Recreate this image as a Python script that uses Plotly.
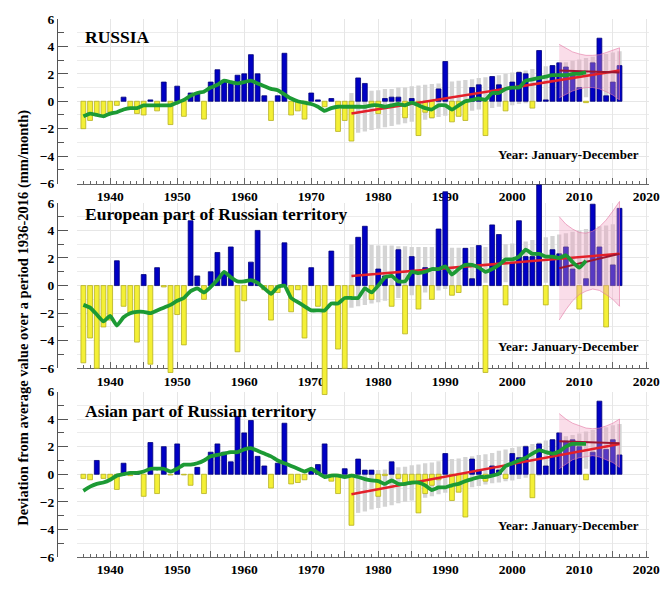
import plotly.graph_objects as go

# ---------------- data ----------------
years = list(range(1936, 2017))
smooth_years = list(range(1936, 2012))
trend_years = list(range(1976, 2017))
recent_years = list(range(2007, 2017))
tick_years = list(range(1935, 2021, 5))
tick_labels = [str(v) if v % 10 == 0 else "" for v in tick_years]

panel_titles = ["RUSSIA", "European part of Russian territory", "Asian part of Russian territory"]
period_label = "Year: January-December"
y_title = "Deviation from average value over a period 1936-2016 (mm/month)"

russia = [-2.0, -1.4, -1.0, -1.0, -0.8, -0.3, 0.3, -0.5, -0.9, -1.0,
          0.1, -0.7, 1.4, -1.7, 1.1, -1.1, 0.6, 0.6, -1.3, 1.4,
          2.3, 1.4, 1.3, 1.9, 2.0, 3.4, 2.0, 0.4, -1.4, 0.4,
          3.5, -1.0, -0.7, -1.3, 0.6, 0.1, -0.4, 0.2, -2.2, -1.4,
          -2.9, 1.7, 1.3, -0.3, -0.9, 0.2, 0.3, 0.3, -1.2, 0.2,
          -2.5, -0.8, -1.2, 0.9, 2.9, -1.5, -1.1, -1.4, 1.0, 1.2,
          -2.5, 1.8, 1.2, -0.7, 1.4, 2.1, 2.0, -0.5, 3.7, 0.1,
          2.6, 2.8, 2.5, 2.0, 1.0, -0.1, 2.8, 4.6, 0.4, 1.4,
          2.6]
europe = [-5.6, -3.8, -6.0, -3.0, -2.5, 1.8, -1.5, -2.0, -4.1, 0.8,
          -5.7, 1.3, -0.1, -6.3, -2.1, -4.3, 4.7, 0.7, -1.0, 1.0,
          2.4, 0.9, 2.8, -4.8, -1.1, 1.7, 4.0, -0.3, -2.5, -0.5,
          3.1, -1.9, -0.3, -3.8, 1.3, -1.5, -7.9, 2.5, -4.6, -6.0,
          -0.9, 3.5, 4.3, -1.0, 1.2, 0.7, -1.5, 2.6, -3.5, 2.1,
          -1.7, 1.3, -1.0, 4.1, 6.8, -0.7, -0.5, 2.7, 0.5, 2.9,
          -6.3, 4.4, 3.7, -1.4, 1.6, 4.7, 2.1, 2.1, 7.3, -1.4,
          2.6, 2.3, 2.8, 1.2, -1.7, 0.5, 5.9, 2.8, -3.0, 1.5,
          5.6]
asia = [-0.3, -0.4, 1.0, -0.3, -0.3, -1.1, 0.8, -0.1, 0.05, -1.6,
        2.3, -1.4, 2.0, -0.05, 2.2, -0.05, -0.8, 0.5, -1.4, 1.6,
        2.2, 1.6, 0.9, 4.2, 3.0, 3.9, 1.3, 0.6, -1.0, 0.8,
        3.7, -0.7, -0.6, -0.4, 0.4, 0.7, 2.2, -0.5, -1.4, 0.4,
        -3.7, 1.1, 0.3, 0.3, -1.6, -0.1, 0.9, -0.3, -0.6, -0.5,
        -2.8, -1.4, -0.8, -0.4, 1.5, -1.9, -1.3, -3.1, 1.1, 0.3,
        -0.5, 0.6, 0.3, -0.3, 1.5, 1.2, 2.0, -1.7, 2.2, 0.6,
        2.5, 3.0, 2.4, 2.5, 2.0, -0.4, 1.6, 5.3, 1.8, 2.5,
        1.4]

russia_smooth = [-1.1, -0.9, -1.0, -1.1, -0.9, -0.8, -0.6, -0.5, -0.5, -0.3,
                 -0.3, -0.3, -0.3, -0.3, -0.1, 0.1, 0.4, 0.6, 0.7, 1.0,
                 1.2, 1.5, 1.4, 1.3, 1.4, 1.5, 1.3, 1.1, 0.9, 0.8,
                 0.5, 0.2, 0.0, -0.1, -0.2, -0.4, -0.7, -0.5, -0.4, -0.4,
                 -0.4, -0.4, -0.4, -0.3, -0.3, -0.4, -0.3, -0.2, -0.3, -0.1,
                 -0.3, -0.5, -0.6, -0.3, -0.3, -0.6, -0.3, 0.0, 0.1, 0.2,
                 0.1, 0.6, 0.6, 0.9, 1.0, 1.0, 1.5, 1.6, 1.7, 1.8,
                 1.9, 1.9, 1.9, 2.0, 2.0, 2.1]
europe_smooth = [-1.4, -1.6, -2.1, -2.6, -2.2, -2.9, -2.3, -2.0, -1.9, -1.9,
                 -2.0, -1.8, -1.6, -1.4, -1.1, -0.9, -0.4, -0.2, -0.5, -0.1,
                 0.4, 1.0, 0.6, 0.3, 0.3, 0.4, 0.2, -0.2, -0.6, -0.1,
                 0.0, -0.9, -1.2, -1.5, -1.8, -1.8, -1.8, -1.3, -1.3, -0.9,
                 -0.9, -0.9, -0.2, -0.5, 0.0, 0.6, 0.7, 0.3, 0.3, 1.0,
                 0.9, 1.0, 1.2, 1.2, 1.4, 0.8, 1.2, 1.5, 1.5, 1.3,
                 1.0, 1.2, 1.5, 1.9, 1.9, 2.1, 2.6, 2.3, 2.3, 2.1,
                 2.1, 2.0, 2.2, 1.7, 1.3, 1.8]
asia_smooth = [-1.2, -0.9, -0.7, -0.6, -0.4, -0.1, 0.0, 0.1, 0.1, 0.2,
               0.4, 0.4, 0.4, 0.2, 0.4, 0.7, 0.7, 0.8, 1.0, 1.3,
               1.4, 1.5, 1.6, 1.6, 1.8, 1.9, 1.7, 1.5, 1.3, 1.0,
               0.8, 0.6, 0.4, 0.2, 0.4, 0.1, -0.2, -0.1, -0.1, -0.2,
               -0.1, -0.2, -0.35, -0.45, -0.5, -0.7, -0.45, -0.7, -0.7, -0.6,
               -0.6, -0.8, -1.15, -0.95, -0.95, -0.8, -0.7, -0.5, -0.35, -0.2,
               -0.2, -0.1, 0.05, 0.6, 0.8, 1.0, 1.2, 1.5, 1.75, 1.6,
               1.5, 1.65, 2.0, 2.2, 2.2, 2.2]

# grey confidence bars of the 1976-2016 trend (low / high per year)
russia_ci_lo = [-2.4, -2.3, -2.2, -2.1, -2.0, -1.9, -1.8, -1.7, -1.6, -1.5,
                -1.45, -1.35, -1.25, -1.15, -1.05, -0.95, -0.9, -0.8, -0.7, -0.6,
                -0.55, -0.5, -0.4, -0.35, -0.3, -0.2, -0.15, -0.1, -0.05, 0.0,
                0.05, 0.1, 0.15, 0.2, 0.25, 0.3, 0.35, 0.4, 0.45, 0.5, 0.55]
russia_ci_hi = [0.6, 0.65, 0.7, 0.76, 0.8, 0.9, 0.9, 1.0, 1.0, 1.1,
                1.15, 1.2, 1.25, 1.3, 1.35, 1.45, 1.5, 1.55, 1.6, 1.7,
                1.75, 1.85, 1.9, 2.0, 2.1, 2.2, 2.25, 2.35, 2.45, 2.55,
                2.65, 2.75, 2.85, 2.95, 3.05, 3.15, 3.25, 3.35, 3.45, 3.55, 3.65]
europe_ci_lo = [-1.6, -1.5, -1.4, -1.3, -1.2, -1.1, -1.0, -0.9, -0.8, -0.7,
                -0.6, -0.5, -0.4, -0.35, -0.25, -0.15, -0.1, 0.0, 0.05, 0.15,
                0.2, 0.2, 0.25, 0.25, 0.3, 0.3, 0.3, 0.25, 0.25, 0.2,
                0.2, 0.2, 0.15, 0.15, 0.1, 0.1, 0.1, 0.1, 0.05, 0.05, 0.05]
europe_ci_hi = [3.0, 3.0, 2.95, 2.95, 2.9, 2.9, 2.9, 2.85, 2.85, 2.8,
                2.8, 2.8, 2.8, 2.75, 2.75, 2.75, 2.75, 2.75, 2.8, 2.8,
                2.8, 2.85, 2.9, 3.0, 3.05, 3.1, 3.2, 3.3, 3.4, 3.5,
                3.6, 3.7, 3.8, 3.9, 4.0, 4.1, 4.2, 4.3, 4.35, 4.45, 4.55]
asia_ci_lo = [-2.9, -2.8, -2.7, -2.55, -2.45, -2.35, -2.25, -2.1, -2.0, -1.9,
              -1.8, -1.7, -1.6, -1.45, -1.35, -1.25, -1.15, -1.05, -0.95, -0.85,
              -0.75, -0.65, -0.6, -0.5, -0.45, -0.35, -0.25, -0.2, -0.1, -0.05,
              0.05, 0.1, 0.15, 0.25, 0.3, 0.4, 0.45, 0.55, 0.6, 0.65, 0.75]
asia_ci_hi = [0.0, 0.07, 0.14, 0.2, 0.3, 0.35, 0.45, 0.5, 0.55, 0.65,
              0.7, 0.8, 0.85, 0.95, 1.0, 1.1, 1.15, 1.25, 1.3, 1.4,
              1.45, 1.55, 1.7, 1.8, 1.9, 2.0, 2.1, 2.2, 2.3, 2.45,
              2.55, 2.65, 2.75, 2.85, 2.95, 3.1, 3.2, 3.3, 3.4, 3.55, 3.65]

# linear trend 1976-2016 (end values) and recent trend 2007-2016 (end values)
russia_trend = [-0.9, 2.25]
europe_trend = [0.7, 2.3]
asia_trend = [-1.45, 2.2]
russia_recent = [2.25, 2.1]
europe_recent = [1.25, 2.3]
asia_recent = [2.4, 2.25]

# pink confidence band of the recent trend (2007-2016)
russia_band_hi = [4.15, 3.85, 3.6, 3.45, 3.35, 3.35, 3.4, 3.55, 3.7, 3.9]
russia_band_lo = [0.25, 0.5, 0.75, 0.9, 1.0, 1.0, 0.9, 0.7, 0.45, 0.1]
europe_band_hi = [5.0, 4.45, 4.1, 3.85, 3.8, 3.95, 4.25, 4.75, 5.4, 6.1]
europe_band_lo = [-2.5, -1.75, -1.1, -0.65, -0.4, -0.25, -0.35, -0.65, -1.0, -1.5]
asia_band_hi = [4.4, 4.0, 3.7, 3.5, 3.35, 3.3, 3.35, 3.5, 3.7, 4.0]
asia_band_lo = [0.4, 0.75, 1.05, 1.2, 1.3, 1.35, 1.25, 1.05, 0.85, 0.5]

# ---------------- figure ----------------
SERIF = "Liberation Serif"
BLUE = "#0000c4"
YELLOW = "#f4f036"
X_DOMAIN = [0.0332, 1.0]
X_RANGE = [1935, 2020.4]

panels = [
    (russia, russia_smooth, russia_ci_lo, russia_ci_hi, russia_trend, russia_recent, russia_band_hi, russia_band_lo),
    (europe, europe_smooth, europe_ci_lo, europe_ci_hi, europe_trend, europe_recent, europe_band_hi, europe_band_lo),
    (asia, asia_smooth, asia_ci_lo, asia_ci_hi, asia_trend, asia_recent, asia_band_hi, asia_band_lo),
]
domains = [[0.6942, 1.0], [0.3507, 0.6583], [0.0, 0.3076]]
title_y = [4.7, 5.2, 4.6]
period_y = [-3.85, -4.4, -3.75]

# European panel data are drawn on a taller (invisible) twin subplot of identical scale,
# so that bars exceeding the +-6 range spill over the frame as in the original.
unit = (domains[1][1] - domains[1][0]) / 12.0
eu_data_range = [-8.5, 7.5]
eu_data_domain = [domains[1][0] - 2.5 * unit, domains[1][1] + 1.5 * unit]

fig = go.Figure()
tick_font = dict(family=SERIF, size=13.5, color="black", weight="bold")

for i, (vals, smooth, lo, hi, trend, recent, bhi, blo) in enumerate(panels):
    fx = "x" if i == 0 else f"x{i+1}"
    fy = "y" if i == 0 else f"y{i+1}"
    if i == 1:
        xa, ya = "x4", "y4"
    else:
        xa, ya = fx, fy
    fig.add_trace(go.Bar(x=trend_years, y=[h - l for h, l in zip(hi, lo)], base=lo,
                         width=0.64, marker=dict(color="#d4d4d4", line=dict(width=0)),
                         xaxis=xa, yaxis=ya, showlegend=False, hoverinfo="skip"))
    fig.add_trace(go.Bar(x=years, y=vals, width=0.72,
                         marker=dict(color=[BLUE if v >= 0 else YELLOW for v in vals],
                                     line=dict(color=["#00007a" if v >= 0 else "#b5b020" for v in vals],
                                               width=0.8)),
                         xaxis=xa, yaxis=ya, showlegend=False))
    fig.add_trace(go.Scatter(x=recent_years + recent_years[::-1], y=bhi + blo[::-1],
                             fill="toself", fillcolor="rgba(240,160,195,0.36)",
                             line=dict(color="rgba(228,120,165,0.6)", width=1),
                             mode="lines", xaxis=xa, yaxis=ya, showlegend=False, hoverinfo="skip"))
    fig.add_trace(go.Scatter(x=[trend_years[0], trend_years[-1]], y=trend, mode="lines",
                             line=dict(color="#e3202a", width=2.5), xaxis=xa, yaxis=ya, showlegend=False))
    fig.add_trace(go.Scatter(x=[recent_years[0], recent_years[-1]], y=recent, mode="lines",
                             line=dict(color="#9c1530", width=2), xaxis=xa, yaxis=ya, showlegend=False))
    fig.add_trace(go.Scatter(x=smooth_years, y=smooth, mode="lines",
                             line=dict(color="#1c9a34", width=3.8, shape="spline", smoothing=0.4),
                             xaxis=xa, yaxis=ya, showlegend=False))

    fig.layout[f"xaxis{'' if i == 0 else i+1}"] = dict(
        domain=X_DOMAIN, range=X_RANGE, anchor=fy,
        tickmode="array", tickvals=tick_years, ticktext=tick_labels,
        ticks="inside", ticklen=6, tickcolor="#666", tickwidth=1,
        minor=dict(dtick=1, tick0=1935, ticks="inside", ticklen=3, tickcolor="#666", showgrid=False),
        showline=True, linecolor="#666", linewidth=1,
        showgrid=True, gridcolor="#e6e6e6", gridwidth=1, zeroline=False,
        tickfont=tick_font, fixedrange=True)
    fig.layout[f"yaxis{'' if i == 0 else i+1}"] = dict(
        domain=domains[i], range=[-6, 6], anchor="free", position=0,
        tickmode="array", tickvals=[-6, -4, -2, 0, 2, 4, 6],
        ticks="inside", ticklen=10, tickcolor="#555", tickwidth=1.2,
        minor=dict(dtick=1, tick0=0, ticks="inside", ticklen=6, tickcolor="#555",
                   showgrid=True, gridcolor="#ececec"),
        showline=True, linecolor="#555", linewidth=1.2,
        showgrid=True, gridcolor="#e6e6e6", zeroline=False,
        tickfont=tick_font, fixedrange=True)

    fig.add_annotation(x=1936.0, y=title_y[i], xref=fx, yref=fy, text=panel_titles[i],
                       showarrow=False, xanchor="left", yanchor="middle",
                       font=dict(family=SERIF, size=17.5, color="black", weight="bold"))
    fig.add_annotation(x=2019.2, y=period_y[i], xref=fx, yref=fy, text=period_label,
                       showarrow=False, xanchor="right", yanchor="middle",
                       font=dict(family=SERIF, size=13, color="black", weight="bold"))

# invisible twin axes for the European data
fig.layout["xaxis4"] = dict(domain=X_DOMAIN, range=X_RANGE, anchor="y4", visible=False,
                            showgrid=False, zeroline=False, fixedrange=True)
fig.layout["yaxis4"] = dict(domain=eu_data_domain, range=eu_data_range, anchor="x4", visible=False,
                            showgrid=False, zeroline=False, fixedrange=True)

fig.add_annotation(x=-0.058, y=0.444, xref="paper", yref="paper", text=y_title,
                   textangle=-90, showarrow=False, xanchor="center", yanchor="middle",
                   font=dict(family=SERIF, size=14.5, color="black", weight="bold"))

fig.update_layout(
    width=672, height=589, barmode="overlay",
    margin=dict(l=57, r=12, t=16, b=17),
    paper_bgcolor="white", plot_bgcolor="rgba(0,0,0,0)",
    showlegend=False,
)

fig.write_html("out.html")
